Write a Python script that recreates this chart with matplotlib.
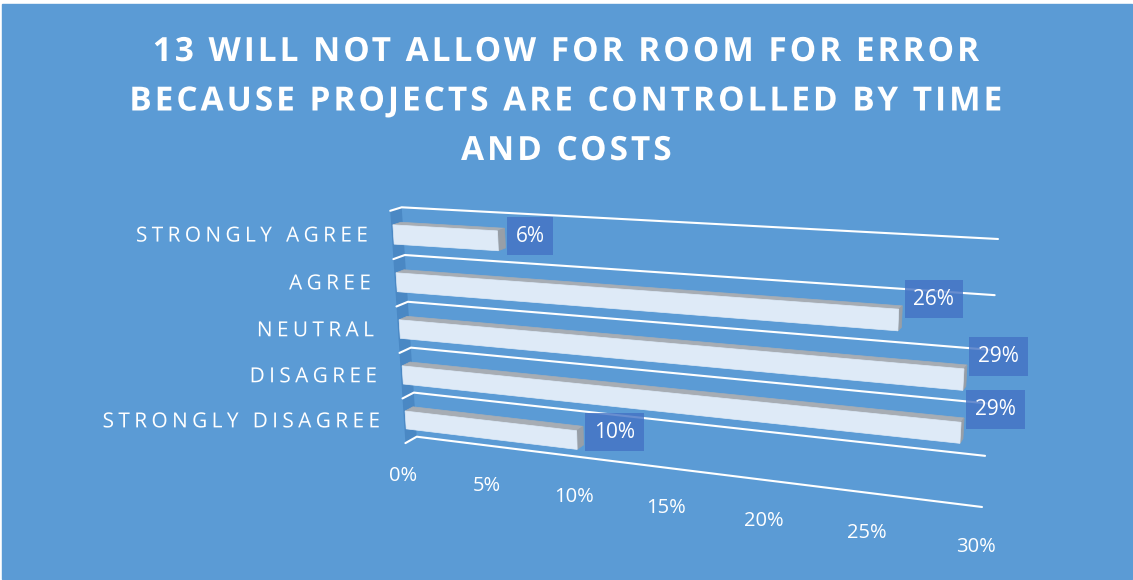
import numpy as np
import matplotlib.pyplot as plt
from matplotlib.patches import Polygon, Rectangle
from matplotlib.patheffects import AbstractPathEffect
from matplotlib.textpath import text_to_path
from matplotlib.font_manager import FontProperties
from matplotlib.path import Path

# survey answers, listed top to bottom as they appear
categories = ["STRONGLY AGREE", "AGREE", "NEUTRAL", "DISAGREE", "STRONGLY DISAGREE"]
shares = [0.06, 0.26, 0.29, 0.29, 0.10]
tick_values = [0.00, 0.05, 0.10, 0.15, 0.20, 0.25, 0.30]
tick_labels = ["0%", "5%", "10%", "15%", "20%", "25%", "30%"]
title_lines = ["13 WILL NOT ALLOW FOR ROOM FOR ERROR",
               "BECAUSE PROJECTS ARE CONTROLLED BY TIME",
               "AND COSTS"]

BG = "#5B9BD5"
FLOOR = "#4A88C4"
FRONT = "#DEEAF7"
TOP = "#A7ADB4"
END = "#989FA7"
LABEL_BOX = (0x44 / 255, 0x72 / 255, 0xC4 / 255, 0.8)
FONT = "Open Sans"

W, H = 1133, 580
vmax = tick_values[-1]
n = len(categories)

# perspective: back wall given by its four corners (pixels), depth pulls
# points away from a vanishing point
back_corners = {(0, 0): (401.7, 207.3), (vmax, 0): (998, 239),
                (0, n): (416.7, 436.7), (vmax, n): (982, 507)}
vanish = np.array([1305.0, -68.0])
depth_k = 0.0127


def homography(pairs):
    A, b = [], []
    for (u, v), (x, y) in pairs.items():
        A.append([u, v, 1, 0, 0, 0, -u * x, -v * x]); b.append(x)
        A.append([0, 0, 0, u, v, 1, -u * y, -v * y]); b.append(y)
    h = np.linalg.solve(np.array(A, float), np.array(b, float))
    return np.append(h, 1).reshape(3, 3)


Hm = homography(back_corners)


def proj(v, c, z):
    """v: value, c: category band (0 top .. n bottom), z: depth (0 front, 1 back)"""
    q = Hm @ np.array([v, c, 1.0])
    back = q[:2] / q[2]
    return vanish + (back - vanish) * (1 + depth_k * (1 - z))


class Tracking(AbstractPathEffect):
    """Letter spacing: push each glyph of the text apart by `em` of the font size."""

    def __init__(self, text, em, ha="left", **font):
        super().__init__()
        fp = FontProperties(**font)
        fp.set_size(text_to_path.FONT_SCALE)
        self.edges = np.array([text_to_path.get_text_width_height_descent(text[:k], fp, ismath=False)[0]
                               for k in range(1, len(text))])
        self.step = em * text_to_path.FONT_SCALE
        extra = self.step * (len(text) - 1)
        self.start = {"left": 0.0, "center": -extra / 2, "right": -extra}[ha]

    def draw_path(self, renderer, gc, tpath, affine, rgbFace=None):
        verts = tpath.vertices.copy()
        codes = tpath.codes
        if codes is None:
            return renderer.draw_path(gc, tpath, affine, rgbFace)
        starts = np.flatnonzero(codes == Path.MOVETO).tolist() + [len(codes)]
        for a, b in zip(starts[:-1], starts[1:]):
            seg = verts[a:b][codes[a:b] != Path.CLOSEPOLY]
            if len(seg) == 0:
                continue
            cx = (seg[:, 0].min() + seg[:, 0].max()) / 2
            idx = np.searchsorted(self.edges, cx)
            verts[a:b, 0] += self.start + idx * self.step
        renderer.draw_path(gc, Path(verts, codes), affine, rgbFace)


def spaced_text(x, y, s, em, ha="left", weight="normal", **kw):
    t = ax.text(x, y, s, ha=ha, family=FONT, fontweight=weight, **kw)
    t.set_path_effects([Tracking(s, em, ha, family=FONT, weight=weight)])
    return t


fig = plt.figure(figsize=(W / 100, H / 100), dpi=100, facecolor="white")
ax = fig.add_axes([0, 0, 1, 1])
ax.set_xlim(0, W)
ax.set_ylim(H, 0)
ax.axis("off")
ax.add_patch(Rectangle((2, 4), W - 3, H - 5, color=BG, zorder=0))

# left floor panel
ax.add_patch(Polygon([proj(0, 0, 0), proj(0, 0, 1), proj(0, n, 1), proj(0, n, 0)],
                     closed=True, color=FLOOR, lw=0, zorder=1))

# category gridlines along floor and back wall
for c in range(n + 1):
    pts = np.array([proj(0, c, 0), proj(0, c, 1), proj(vmax, c, 1)])
    ax.plot(pts[:, 0], pts[:, 1], color="white", lw=1.5, zorder=2,
            solid_capstyle="round", solid_joinstyle="round")

# bars
zf, zb = 0.15, 0.85
for i, (cat, val) in enumerate(zip(categories, shares)):
    c0, c1 = i + 0.3, i + 0.7
    top = [proj(0, c0, zf), proj(val, c0, zf), proj(val, c0, zb), proj(0, c0, zb)]
    end = [proj(val, c0, zf), proj(val, c1, zf), proj(val, c1, zb), proj(val, c0, zb)]
    front = [proj(0, c0, zf), proj(val, c0, zf), proj(val, c1, zf), proj(0, c1, zf)]
    ax.add_patch(Polygon(top, closed=True, color=TOP, lw=0.5, zorder=3))
    ax.add_patch(Polygon(end, closed=True, color=END, lw=0.5, zorder=3))
    ax.add_patch(Polygon(front, closed=True, color=FRONT, lw=0.5, zorder=4))

    # value label to the right of the bar end
    ex = proj(val, c0, zb)[0]
    ey = proj(val, i + 0.5, zf)[1]
    ax.annotate(f"{val:.0%}", xy=(ex, ey), xytext=(8, 58 * val),
                textcoords="offset points", ha="left", va="center",
                fontsize=15, family=FONT, color="white", zorder=6,
                bbox=dict(boxstyle="square,pad=0.42", fc=LABEL_BOX, ec="none"))

    # category name left of the floor
    lx, ly = proj(0, i + 0.5, 0)
    spaced_text(lx - 24, ly + 1, cat, 0.21, ha="right", va="center",
                fontsize=15, color="white")

# value axis labels along the front edge
for t, lab in zip(tick_values, tick_labels):
    x, y = proj(t, n, 0)
    ax.annotate(lab, xy=(x, y), xytext=(-1.5, -23.5), textcoords="offset points",
                ha="center", va="center", fontsize=14.5, family=FONT, color="white")

for k, line in enumerate(title_lines):
    spaced_text(W / 2, 61 + 49.5 * k, line, 0.09, ha="center", va="baseline",
                weight="bold", fontsize=24, color="white")

fig.savefig("out.png", dpi=100, facecolor="white")
